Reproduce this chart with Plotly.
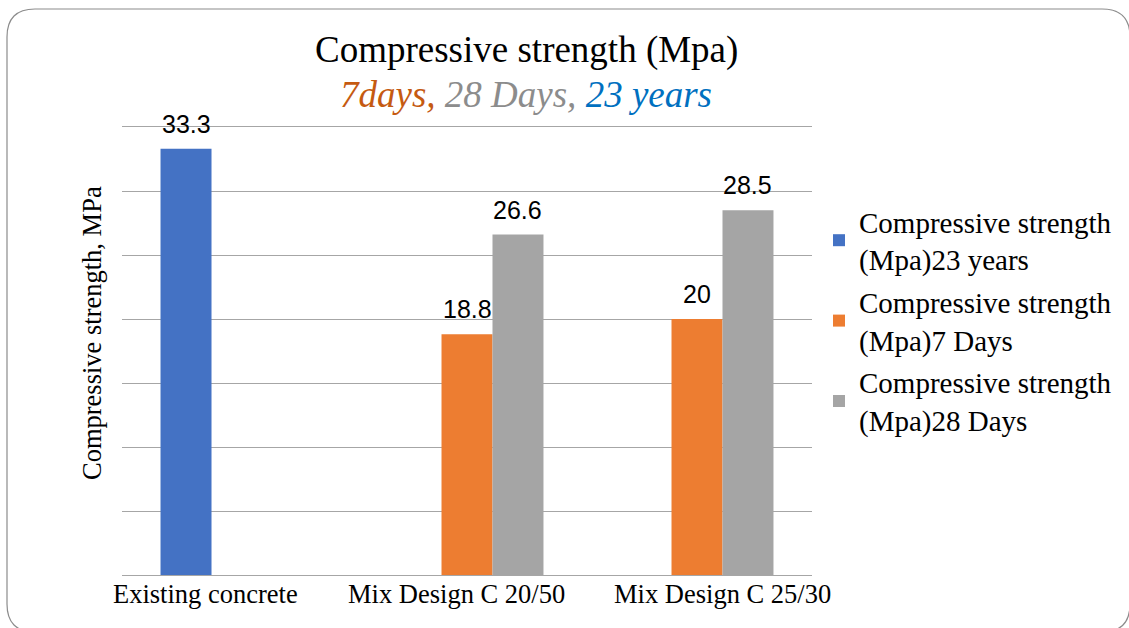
import plotly.graph_objects as go

categories = ["Existing concrete", "Mix Design C 20/50", "Mix Design C 25/30"]
series_names = [
    "Compressive strength<br>(Mpa)23 years",
    "Compressive strength<br>(Mpa)7 Days",
    "Compressive strength<br>(Mpa)28 Days",
]
years23 = [33.3, None, None]
days7 = [None, 18.8, 20]
days28 = [None, 26.6, 28.5]
series_values = [years23, days7, days28]
colors = ["#4472C4", "#ED7D31", "#A5A5A5"]
label_shifts = [-32, -11, 25]  # horizontal nudges of category labels, as in the reference

W, H = 1129, 628
L, R, T, B = 122, 317, 127, 53
plot_w = W - L - R
plot_h = H - T - B
bargap = 0.335

fig = go.Figure()
for i, (name, vals, col) in enumerate(zip(series_names, series_values, colors)):
    fig.add_trace(go.Bar(
        x=categories, y=vals, name=name, marker=dict(color=col, line=dict(width=0)),
        legendgroup=str(i),
    ))

# data labels
bar_px = plot_w / len(categories) * (1 - bargap) / len(series_values)
annotations = []
for i, vals in enumerate(series_values):
    for c, v in zip(categories, vals):
        if v is None:
            continue
        annotations.append(dict(
            x=c, y=v, xref="x", yref="y", text=f"{v:g}", showarrow=False,
            xshift=(i - 1) * bar_px, yanchor="bottom", yshift=9,
            font=dict(family="Liberation Sans", size=25, color="#000000"),
        ))

# category labels
for c, s in zip(categories, label_shifts):
    annotations.append(dict(
        x=c, y=0, xref="x", yref="y", text=c, showarrow=False,
        xanchor="center", yanchor="top", xshift=s, yshift=-2,
        font=dict(family="Liberation Serif", size=26.5, color="#000000"),
    ))

def px2paper_x(px):
    return (px - L) / plot_w

def px2paper_y(py):
    return (H - B - py) / plot_h

annotations.append(dict(
    x=px2paper_x(526), y=px2paper_y(50), xref="paper", yref="paper",
    xanchor="center", yanchor="middle",
    text="Compressive strength (Mpa)", showarrow=False,
    font=dict(family="Liberation Serif", size=37, color="#000000"),
))
annotations.append(dict(
    x=px2paper_x(526), y=px2paper_y(94), xref="paper", yref="paper",
    xanchor="center", yanchor="middle",
    text="<i><span style='color:#C55A11'>7days,</span> "
         "<span style='color:#8C8C8C'>28 Days,</span> "
         "<span style='color:#0070C0'>23 years</span></i>",
    showarrow=False,
    font=dict(family="Liberation Serif", size=37, color="#000000"),
))
annotations.append(dict(
    x=px2paper_x(92), y=px2paper_y(333), xref="paper", yref="paper",
    xanchor="center", yanchor="middle",
    text="Compressive strength, MPa", textangle=-90, showarrow=False,
    font=dict(family="Liberation Serif", size=26.5, color="#000000"),
))

# rounded border
x0, y0, x1, y1, r = 7, 9, 1130, 632, 28
path = (
    f"M {px2paper_x(x0 + r)} {px2paper_y(y0)} "
    f"L {px2paper_x(x1 - r)} {px2paper_y(y0)} "
    f"Q {px2paper_x(x1)} {px2paper_y(y0)} {px2paper_x(x1)} {px2paper_y(y0 + r)} "
    f"L {px2paper_x(x1)} {px2paper_y(y1 - r)} "
    f"Q {px2paper_x(x1)} {px2paper_y(y1)} {px2paper_x(x1 - r)} {px2paper_y(y1)} "
    f"L {px2paper_x(x0 + r)} {px2paper_y(y1)} "
    f"Q {px2paper_x(x0)} {px2paper_y(y1)} {px2paper_x(x0)} {px2paper_y(y1 - r)} "
    f"L {px2paper_x(x0)} {px2paper_y(y0 + r)} "
    f"Q {px2paper_x(x0)} {px2paper_y(y0)} {px2paper_x(x0 + r)} {px2paper_y(y0)} Z"
)

fig.update_layout(
    width=W, height=H,
    margin=dict(l=L, r=R, t=T, b=B, autoexpand=False),
    paper_bgcolor="white", plot_bgcolor="white",
    barmode="group", bargap=bargap, bargroupgap=0,
    showlegend=True,
    legend=dict(
        x=px2paper_x(819), y=px2paper_y(196), xanchor="left", yanchor="top",
        font=dict(family="Liberation Serif", size=29, color="#000000"),
        tracegroupgap=2, itemwidth=30, bgcolor="rgba(0,0,0,0)",
    ),
    xaxis=dict(
        range=[-0.5, len(categories) - 0.5], autorange=False,
        showline=True, linecolor="#A6A6A6", linewidth=1, mirror=True,
        showticklabels=False, ticks="", showgrid=False,
    ),
    yaxis=dict(
        range=[0, 35], autorange=False, dtick=5, showgrid=True,
        gridcolor="#A6A6A6", gridwidth=1,
        showticklabels=False, zeroline=False, ticks="",
    ),
    annotations=annotations,
    shapes=[dict(type="path", path=path, xref="paper", yref="paper",
                 line=dict(color="#8C8C8C", width=1.2), layer="below")],
)

fig.write_html(
    "out.html",
    config={"displayModeBar": False},
    post_script="document.body.style.margin='0';document.body.style.overflow='hidden';",
)
